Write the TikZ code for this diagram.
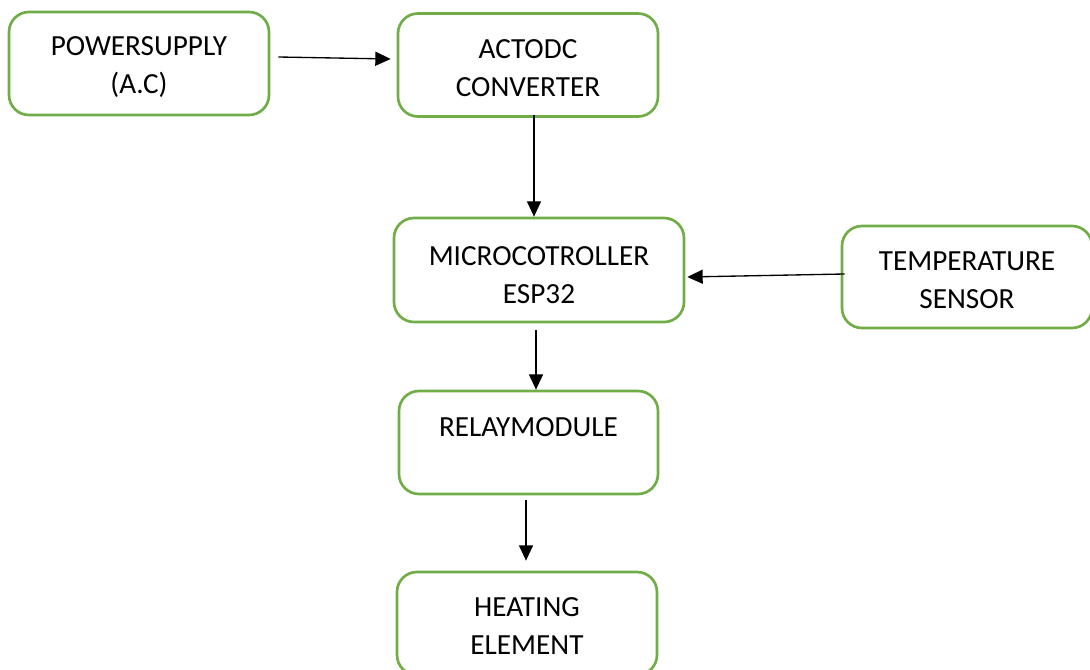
\documentclass[tikz,border=0pt]{standalone}
\usepackage{fontspec}
\setmainfont{Carlito}
\usetikzlibrary{arrows.meta}

\begin{document}
\begin{tikzpicture}[
  x=0.75pt, y=-0.75pt,
  block/.style={draw=blockgreen, line width=2pt,
    rounded corners=15pt, minimum width=260*0.75pt, minimum height=103*0.75pt,
    inner sep=0pt},
  txt/.style={font=\fontsize{21.9pt}{28.5pt}\selectfont, align=center, inner sep=0pt},
  flow/.style={draw=black, line width=1pt,
    -{Triangle[length=11.5pt, width=10.5pt]}}
]
\definecolor{blockgreen}{HTML}{70AD47}
\useasboundingbox (0,0) rectangle (1090,670);
\clip (0,0) rectangle (1090,670);

% blocks of the heater controller, each with its caption
\node[block, label={[txt, yshift=-3pt]center:{POWERSUPPLY\\(A.C)}}] (pw) at (139,63.5) {};
\node[block, label={[txt, yshift=-2.6pt]center:{ACTODC\\CONVERTER}}] (ac) at (528,65) {};
\node[block, minimum width=290*0.75pt, minimum height=104*0.75pt,
      label={[txt, yshift=-3.8pt]center:{MICROCOTROLLER\\ESP32}}] (mc) at (539,270) {};
\node[block, minimum width=250*0.75pt, minimum height=102*0.75pt,
      label={[txt, yshift=-2.6pt]center:{TEMPERATURE\\SENSOR}}] (ts) at (967,277) {};
\node[block, minimum width=259*0.75pt,
      label={[txt, yshift=11.6pt]center:{RELAYMODULE}}] (rm) at (528.5,442.5) {};
\node[block, label={[txt, yshift=-1.9pt]center:{HEATING\\ELEMENT}}] (he) at (527,623.5) {};

% signal and power flow
\draw[flow] ([shift={(8,-6.5)}]pw.east) -- ([shift={(-6,-6)}]ac.west);
\draw[flow] ([shift={(6,-3)}]ac.south) -- ([shift={(-5,0)}]mc.north);
\draw[flow] ([shift={(4,-3)}]ts.west) -- ([shift={(2,7)}]mc.east);
\draw[flow] ([shift={(-3,7)}]mc.south) -- ([shift={(7.5,0)}]rm.north);
\draw[flow] ([shift={(-2.5,5)}]rm.south) -- ([shift={(-1,-10)}]he.north);
\end{tikzpicture}
\end{document}
